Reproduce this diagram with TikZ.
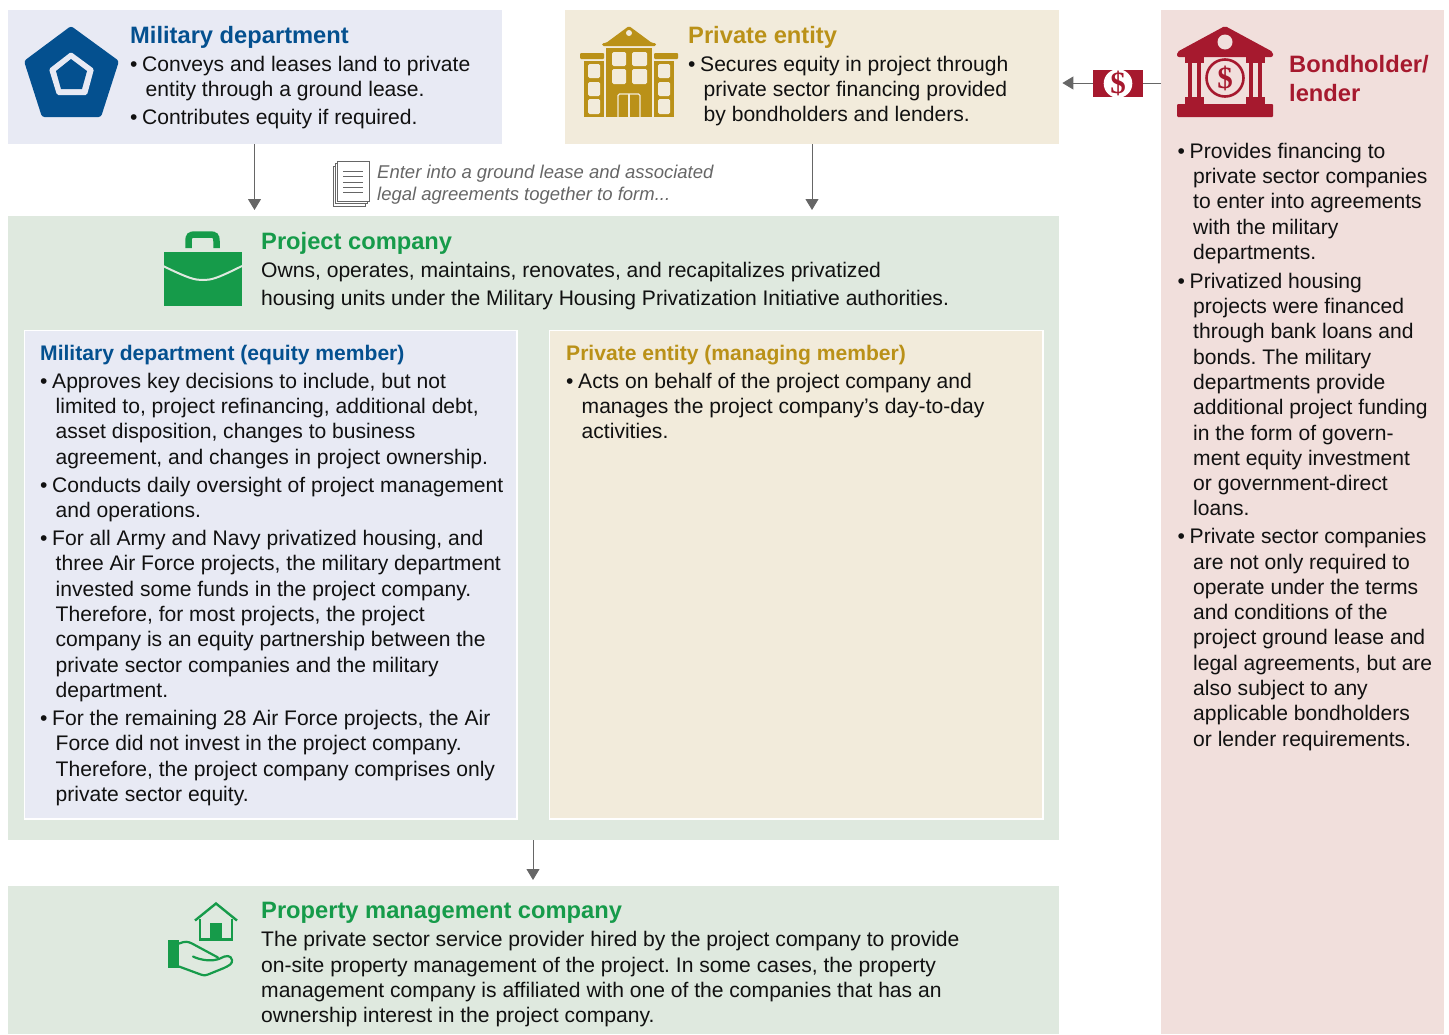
\documentclass[tikz,border=0pt]{standalone}
\usepackage{fontspec}
\setmainfont{Liberation Sans}
\newfontfamily\dollarfont{Liberation Serif}
\frenchspacing
\usetikzlibrary{arrows.meta}
\definecolor{milbg}{HTML}{E8EAF4}
\definecolor{privbg}{HTML}{F2EBDB}
\definecolor{bondbg}{HTML}{F1DFDC}
\definecolor{projbg}{HTML}{DFE9DF}
\definecolor{milc}{HTML}{04508F}
\definecolor{privc}{HTML}{BA9118}
\definecolor{projc}{HTML}{169B4A}
\definecolor{bondc}{HTML}{A6192E}
\definecolor{arrowc}{HTML}{666666}
\definecolor{txtc}{HTML}{111111}
\newcommand{\ST}{\rule{0pt}{18pt}}
\newcommand{\Bu}{\makebox[12pt][l]{•}}
\newcommand{\Cn}{\makebox[15.5pt]{}}
\tikzset{x=1pt,y=-1pt,
  panel/.style={draw=none,fill=#1,inner sep=0pt,anchor=north west},
  innerpanel/.style={draw=white,line width=1.2pt,fill=#1,inner sep=0pt,anchor=north west},
  body/.style={anchor=north west,inner sep=0pt,align=left,text=txtc,font=\fontsize{21.08}{25.3}\selectfont},
  ttl/.style={anchor=base west,inner sep=0pt,text=#1,font=\fontsize{23.7}{28}\selectfont\bfseries},
  subttl/.style={anchor=base west,inner sep=0pt,text=#1,font=\fontsize{21.08}{25}\selectfont\bfseries},
  flow/.style={draw=arrowc,line width=1pt,-{Triangle[length=11pt,width=13pt]},shorten >=6pt},
  dollar/.style={inner sep=0pt,text=bondc,font=\dollarfont\fontsize{31}{31}\selectfont\bfseries}
}
\begin{document}
\begin{tikzpicture}
\useasboundingbox (0,0) rectangle (1449,1034);
% panels
\node[panel=milbg,minimum width=494pt,minimum height=134pt] (mil) at (8,10) {};
\node[panel=privbg,minimum width=494pt,minimum height=134pt] (priv) at (565,10) {};
\node[panel=bondbg,minimum width=283pt,minimum height=1024pt] (bond) at (1161,10) {};
\node[panel=projbg,minimum width=1051pt,minimum height=624pt] (proj) at (8,216) {};
\node[innerpanel=milbg,minimum width=492.8pt,minimum height=488.8pt] (imil) at (23.5,329.5) {};
\node[innerpanel=privbg,minimum width=493.8pt,minimum height=488.8pt] (ipriv) at (548.5,329.5) {};
\node[panel=projbg,minimum width=1051pt,minimum height=148pt] (prop) at (8,886) {};
% connectors
\coordinate (a1) at (254.5,216);
\coordinate (a2) at (812,216);
\coordinate (a3) at (533,886);
\coordinate (a4) at (1161,83);
\draw[flow] (mil.south -| a1) -- (a1);
\draw[flow] (priv.south -| a2) -- (a2);
\draw[flow] (proj.south -| a3) -- (a3);
\draw[flow,shorten >=3pt] (a4) -- (a4 -| priv.east);
% money
\fill[bondc] (1093,70) rectangle (1143,97);
\fill[white] (1118,83.5) circle (14.3);
\node[dollar] (m1) at (1118,83.5) {\$};
% pentagon
\fill[milc,rounded corners=2.5pt] (71,26) -- (119,61) -- (101,117) -- (42,117) -- (24,61) -- cycle;
\fill[milbg,rounded corners=1.5pt] (71,52) -- (94,69) -- (87,95) -- (57,95) -- (49,69) -- cycle;
\fill[milc] (71,59) -- (87,71) -- (82,89) -- (61,89) -- (56,71) -- cycle;
% building
\begin{scope}[privc]
\fill[rounded corners=1.5pt] (629,26) -- (652,43) -- (656,43) -- (656,46) -- (602,46) -- (602,43) -- (606,43) -- cycle;
\fill[privbg] (629,33) circle (3);
\fill (606,48) rectangle (652,117);
\fill[rounded corners=1pt] (580,53) rectangle (604,59);
\fill[rounded corners=1pt] (654,53) rectangle (678,59);
\fill (584,61) rectangle (604,117);
\fill (654,61) rectangle (674,117);
\end{scope}
\begin{scope}[privbg,rounded corners=1.5pt]
\fill (612,52) rectangle (626,66);
\fill (632,52) rectangle (647,66);
\fill (612,69) rectangle (626,84);
\fill (632,69) rectangle (647,84);
\foreach \yt/\yb in {64/78,82/96,99/114}{
  \fill (588,\yt) rectangle (600,\yb);
  \fill (658,\yt) rectangle (670,\yb);
}
\draw[line width=1.2pt] (618,117) -- (618,94) -- (640,94) -- (640,117);
\draw[line width=1.2pt,sharp corners] (629,94) -- (629,117);
\end{scope}
% bank
\begin{scope}[bondc]
\fill[rounded corners=2pt] (1225,26) -- (1273,52) -- (1273,57) -- (1177,57) -- (1177,52) -- cycle;
\fill[bondbg] (1225,42) circle (7.5);
\fill[rounded corners=1pt] (1177,104) rectangle (1273,117);
\fill (1185,57) rectangle (1204,63);
\fill (1246,57) rectangle (1265,63);
\fill (1185,97) rectangle (1204,104);
\fill (1246,97) rectangle (1265,104);
\fill (1188,63) rectangle (1192,97);
\fill (1197,63) rectangle (1201,97);
\fill (1249,63) rectangle (1253,97);
\fill (1258,63) rectangle (1262,97);
\draw[line width=2.6pt] (1225,78) circle (18.5);
\end{scope}
\node[dollar] (m2) at (1225,78) {\$};
% document
\foreach \dx/\dy in {-4/5,-2/2.5,0/0}{
  \draw[arrowc,fill=white,line width=1pt] (337+\dx,161+\dy) rectangle (369+\dx,201+\dy);
}
\foreach \ly in {171,176.5,182,187,192.5}{
  \draw[arrowc,line width=.9pt] (343,\ly) -- (363,\ly);
}
% briefcase
\fill[projc] (163.5,252) rectangle (241.5,306);
\draw[projbg,line width=2pt] (163,266) .. controls (190,279) and (195,280) .. (203,280) .. controls (211,280) and (216,279) .. (242,266);
\draw[projc,line width=6.5pt] (188.5,248) -- (188.5,241) .. controls (188.5,236) and (190,234.5) .. (195,234.5) -- (210,234.5) .. controls (215,234.5) and (216.5,236) .. (216.5,241) -- (216.5,248);
% house in hand
\draw[projc,line width=2.4pt,line join=miter] (195,920.5) -- (216,903.5) -- (237,920.5);
\draw[projc,line width=2.2pt] (200,919) -- (200,939.5) -- (232,939.5) -- (232,919);
\fill[projc] (209.5,923) rectangle (222,940);
\fill[projc] (168,940) rectangle (179,968);
\draw[projc,line width=2.2pt,line join=round,line cap=round] (179,943.5) .. controls (185,941) and (188,941.5) .. (192,943.5) -- (218,957.5)
  (193,956.5) .. controls (200,960) and (212,962) .. (220,958.5) .. controls (226,955) and (231,955) .. (232,960) .. controls (233,964) and (228,966) .. (224,968) -- (208,974.5) .. controls (204,976) and (202,975) .. (198,973.5) -- (179,966.5);
% titles and text
\node[ttl=milc] (t1) at (130,43) {Military department};
\node[body] (b1) at (130,53) {\ST\Bu Conveys and leases land to private\\
\Cn entity through a ground lease.\\[2.5pt]
\Bu Contributes equity if required.};
\node[ttl=privc] (t2) at (688,43) {Private entity};
\node[body] (b2) at (688,53) {\ST\Bu Secures equity in project through\\
\Cn private sector financing provided\\
\Cn by bondholders and lenders.};
\node[ttl=bondc] (t3) at (1289,72) {Bondholder/};
\node[ttl=bondc] (t4) at (1289,101) {lender};
\node[body,anchor=north west] (b3) at (1177.5,140) {\ST\Bu Provides financing to\\
\Cn private sector companies\\
\Cn to enter into agreements\\
\Cn with the military\\
\Cn departments.\\[3.5pt]
\Bu Privatized housing\\
\Cn projects were financed\\
\Cn through bank loans and\\
\Cn bonds. The military\\
\Cn departments provide\\
\Cn additional project funding\\
\Cn in the form of govern-\\
\Cn ment equity investment\\
\Cn or government-direct\\
\Cn loans.\\[2.5pt]
\Bu Private sector companies\\
\Cn are not only required to\\
\Cn operate under the terms\\
\Cn and conditions of the\\
\Cn project ground lease and\\
\Cn legal agreements, but are\\
\Cn also subject to any\\
\Cn applicable bondholders\\
\Cn or lender requirements.};
\node[anchor=north west,inner sep=0pt,align=left,text=arrowc,font=\fontsize{18.5}{22}\selectfont\itshape] (doc) at (377,160) {\rule{0pt}{18pt}Enter into a ground lease and associated\\legal agreements together to form...};
\node[ttl=projc] (t5) at (261,249) {Project company};
\node[body,font=\fontsize{21.08}{28}\selectfont] (b5) at (261,259) {\ST Owns, operates, maintains, renovates, and recapitalizes privatized\\
housing units under the Military Housing Privatization Initiative authorities.};
\node[subttl=milc] (t6) at (40,360) {Military department (equity member)};
\node[body] (b6) at (40,370) {\ST\Bu Approves key decisions to include, but not\\
\Cn limited to, project refinancing, additional debt,\\
\Cn asset disposition, changes to business\\
\Cn agreement, and changes in project ownership.\\[3pt]
\Bu Conducts daily oversight of project management\\
\Cn and operations.\\[2.5pt]
\Bu For all Army and Navy privatized housing, and\\
\Cn three Air Force projects, the military department\\
\Cn invested some funds in the project company.\\
\Cn Therefore, for most projects, the project\\
\Cn company is an equity partnership between the\\
\Cn private sector companies and the military\\
\Cn department.\\[3pt]
\Bu For the remaining 28 Air Force projects, the Air\\
\Cn Force did not invest in the project company.\\
\Cn Therefore, the project company comprises only\\
\Cn private sector equity.};
\node[subttl=privc] (t7) at (566,360) {Private entity (managing member)};
\node[body] (b7) at (566,370) {\ST\Bu Acts on behalf of the project company and\\
\Cn manages the project company’s day-to-day\\
\Cn activities.};
\node[ttl=projc] (t8) at (261,918.5) {Property management company};
\node[body] (b8) at (261,928.5) {\ST The private sector service provider hired by the project company to provide\\
on-site property management of the project. In some cases, the property\\
management company is affiliated with one of the companies that has an\\
ownership interest in the project company.};
\end{tikzpicture}
\end{document}
